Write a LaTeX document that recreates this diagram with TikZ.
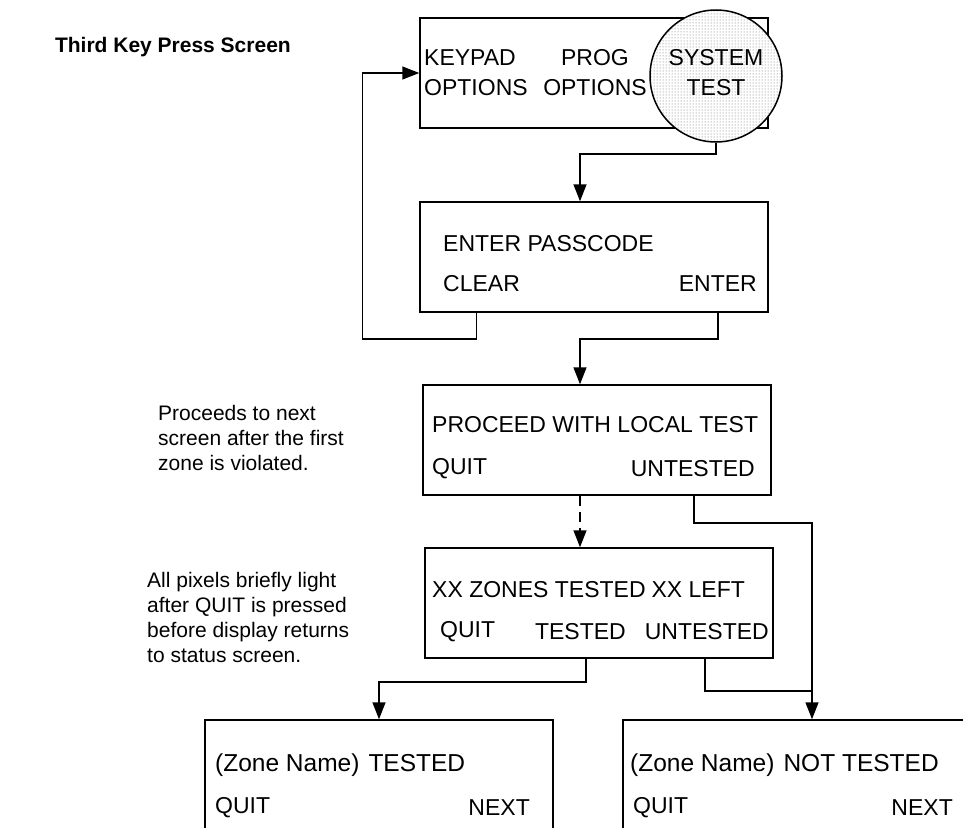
\documentclass[tikz,border=0pt]{standalone}
\usepackage{fontspec}
\setmainfont{Liberation Sans}
\usetikzlibrary{arrows.meta}
\usetikzlibrary{patterns}
\usetikzlibrary{positioning}
\tikzset{screen/.style={draw=black,line width=1.5pt,minimum width=348pt,minimum height=110pt,inner sep=0pt}}
\tikzset{lcd/.style={inner sep=0pt,font=\fontsize{23}{30}\selectfont}}
\tikzset{zonetext/.style={inner sep=0pt,font=\fontsize{24.5}{30}\selectfont}}
\tikzset{note/.style={inner sep=0pt,align=left,font=\fontsize{21}{25}\selectfont}}
\tikzset{arrow/.style={line width=1.5pt,-{Triangle[width=13pt,length=17pt]}}}
\tikzset{wire/.style={line width=1.5pt}}

\begin{document}
\begin{tikzpicture}[x=1pt,y=-1pt]
        \clip (0,0) rectangle (963,827);

        \node[inner sep=0pt,anchor=east,font=\bfseries\fontsize{21}{25}\selectfont] (ttl) at (291,47) {Third Key Press Screen};

        \node[screen] (opt) at (594,73) {};
        \node[circle,draw=black,line width=1.5pt,minimum size=132pt,inner sep=0pt,
            preaction={fill=white},pattern=dots,pattern color=black!60] (sys) at (716,76) {};
        \node[lcd,align=left,anchor=west] (kpd) at (424,73) {KEYPAD\\OPTIONS};
        \node[lcd,align=center] (prg) at (595,73) {PROG\\OPTIONS};
        \node[lcd,align=center] (tst1) at (716,73) {SYSTEM\\TEST};

        \node[screen] (pas) at (594,257) {};
        \node[lcd,anchor=west] (pas1) at (443,244) {ENTER PASSCODE};
        \node[lcd,anchor=west] (clr) at (443,284) {CLEAR};
        \node[lcd,anchor=east] (ent) at (757,284) {ENTER};

        \node[screen] (loc) at (597,440) {};
        \node[lcd,anchor=west] (loc1) at (432,425) {PROCEED WITH LOCAL TEST};
        \node[lcd,anchor=west] (loc2) at (432,469) {QUIT};
        \node[lcd,anchor=east] (loc3) at (755,469) {UNTESTED};

        \node[screen] (zon) at (599,603) {};
        \node[lcd,anchor=west] (zon1) at (432,590) {XX ZONES TESTED\hspace{6pt}XX LEFT};
        \node[lcd,anchor=west] (zon2) at (440,632) {QUIT};
        \node[lcd,anchor=east] (zon3) at (626,632) {TESTED};
        \node[lcd,anchor=east] (zon4) at (769,632) {UNTESTED};

        \node[screen,minimum height=120pt] (tst) at (379,780) {};
        \node[zonetext,anchor=west] (tst2) at (215,765) {(Zone Name)\hspace{9pt}TESTED};
        \node[lcd,anchor=west] (tst3) at (215,808) {QUIT};
        \node[lcd,anchor=east] (tst4) at (530,808) {NEXT};

        \node[screen,minimum height=120pt] (nts) at (797,780) {};
        \node[zonetext,anchor=west] (nts1) at (630,765) {(Zone Name)\hspace{9pt}NOT TESTED};
        \node[lcd,anchor=west] (nts2) at (633,808) {QUIT};
        \node[lcd,anchor=east] (nts3) at (953,808) {NEXT};

        \node[note,anchor=north west] (nt1) at (158,405)
            {Proceeds to next\\screen after the first\\zone is violated.};
        \node[note,anchor=north west] (nt2) at (147,572)
            {All pixels briefly light\\after QUIT is pressed\\before display returns\\to status screen.};

        \draw[arrow] (sys.south) -- ++(0,11) -| ([xshift=-14pt]pas.north);
        \draw[arrow] ([xshift=57pt]pas.south west) -- ++(0,26) -- ++(-114,0) |- (opt.west);
        \draw[arrow] ([xshift=-51pt]pas.south east) -- ++(0,26) -| ([xshift=-17pt]loc.north);
        \draw[arrow,dash pattern=on 10pt off 6pt] ([xshift=-17pt]loc.south) -- ([xshift=-19pt]zon.north);
        \draw[arrow] ([xshift=-78pt]loc.south east) -- ++(0,27) -| ([xshift=15pt]nts.north);
        \draw[arrow] ([xshift=-13pt]zon.south) -- ++(0,23) -| (tst.north);
        \draw[wire] ([xshift=-69pt]zon.south east) -- ++(0,32) -- ++(108,0);
    \end{tikzpicture}
\end{document}
